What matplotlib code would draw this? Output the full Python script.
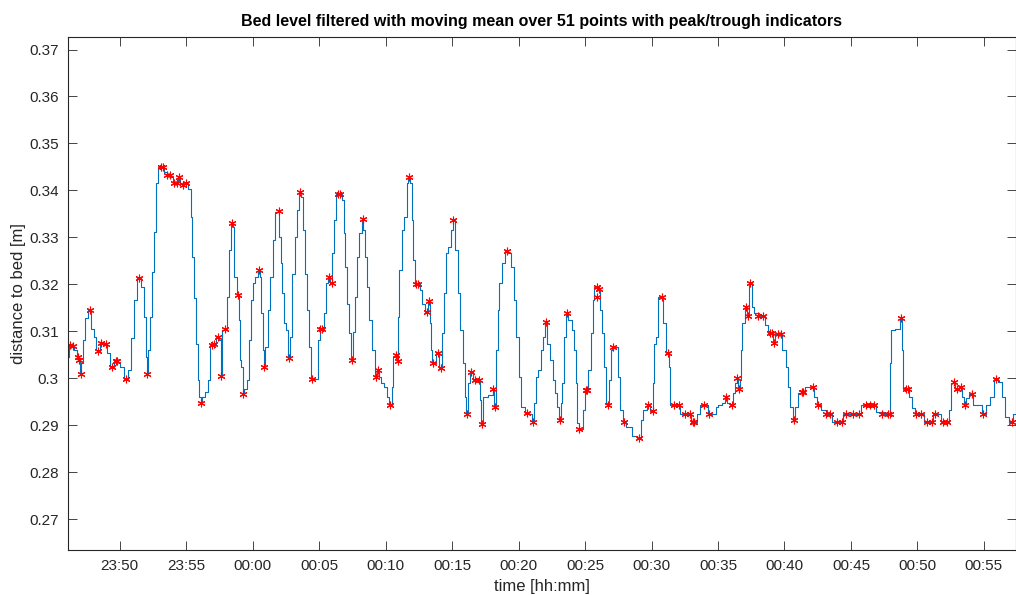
import numpy as np
import matplotlib
matplotlib.use("Agg")
import matplotlib.pyplot as plt

plt.rcParams['font.family'] = ['Liberation Sans', 'DejaVu Sans']

# time in minutes relative to 00:00, bed level in m
t = [-13.87, -13.79, -13.54, -13.37, -13.12, -13.04, -12.91, -12.86, -12.69, -12.54,
     -12.24, -12.03, -11.86, -11.73, -11.61, -11.41, -11.06, -10.86, -10.56, -10.36,
     -10.11, -9.85, -9.55, -9.23, -9.03, -8.85, -8.57, -8.27, -8.10, -8.02,
     -7.93, -7.78, -7.67, -7.52, -7.35, -7.22, -7.05, -6.84, -6.52, -6.35,
     -6.09, -5.84, -5.67, -5.54, -5.42, -5.22, -5.04, -4.72, -4.59, -4.47,
     -4.34, -4.21, -4.09, -3.96, -3.87, -3.72, -3.46, -3.26, -3.16, -2.91,
     -2.59, -2.46, -2.38, -2.21, -2.01, -1.84, -1.71, -1.58, -1.41, -1.33,
     -1.08, -1.01, -0.90, -0.80, -0.71, -0.58, -0.33, -0.20, -0.08, 0.12,
     0.30, 0.45, 0.60, 0.68, 0.80, 0.87, 1.05, 1.25, 1.43, 1.62,
     1.80, 1.96, 2.05, 2.18, 2.30, 2.43, 2.56, 2.71, 2.88, 3.05,
     3.26, 3.43, 3.58, 3.69, 3.81, 4.01, 4.18, 4.31, 4.44, 4.86,
     4.94, 5.23, 5.44, 5.57, 5.74, 5.94, 6.06, 6.19, 6.32, 6.62,
     6.81, 6.89, 7.02, 7.19, 7.32, 7.45, 7.57, 7.77, 7.94, 8.07,
     8.30, 8.37, 8.52, 8.70, 8.87, 9.07, 9.27, 9.40, 9.57, 9.78,
     9.95, 10.20, 10.38, 10.53, 10.63, 10.78, 10.91, 10.95, 11.13, 11.28,
     11.53, 11.63, 11.78, 11.96, 12.00, 12.13, 12.28, 12.45, 12.71, 12.83,
     13.09, 13.26, 13.34, 13.46, 13.58, 13.94, 14.14, 14.29, 14.46, 14.59,
     14.79, 14.97, 15.09, 15.34, 15.54, 15.72, 15.89, 16.04, 16.10, 16.22,
     16.40, 16.72, 17.04, 17.10, 17.25, 17.35, 17.98, 18.10, 18.23, 18.35,
     18.48, 18.60, 18.85, 19.10, 19.35, 19.55, 19.73, 19.90, 20.10, 20.31,
     20.61, 20.98, 21.10, 21.23, 21.36, 21.61, 21.74, 21.86, 22.06, 22.23,
     22.49, 22.66, 22.81, 22.98, 23.11, 23.24, 23.36, 23.49, 23.62, 23.86,
     24.11, 24.24, 24.37, 24.49, 24.56, 24.82, 24.86, 25.07, 25.32, 25.50,
     25.62, 25.75, 25.92, 26.07, 26.25, 26.37, 26.50, 26.62, 26.75, 26.87,
     27.00, 27.08, 27.38, 27.57, 27.75, 27.93, 28.25, 28.75, 29.08, 29.26,
     29.50, 29.75, 30.08, 30.13, 30.26, 30.39, 30.51, 30.76, 30.93, 31.26,
     31.38, 31.44, 32.08, 32.27, 32.89, 33.02, 33.27, 33.52, 33.77, 34.15,
     34.34, 34.77, 34.90, 35.15, 35.40, 35.58, 35.78, 36.07, 36.23, 36.40,
     36.45, 36.58, 36.70, 36.78, 36.90, 37.10, 37.28, 37.40, 37.53, 37.58,
     37.78, 38.40, 38.66, 38.91, 39.11, 39.23, 39.36, 39.73, 39.96, 40.21,
     40.36, 40.54, 40.73, 40.91, 41.09, 41.41, 41.61, 42.12, 42.29, 42.54,
     42.92, 43.42, 43.67, 44.30, 44.47, 45.60, 45.93, 46.75, 47.05, 47.93,
     47.98, 48.10, 48.56, 48.78, 48.89, 48.99, 49.26, 49.44, 49.69, 49.89,
     50.44, 50.57, 51.07, 51.25, 51.75, 51.82, 52.32, 52.45, 52.57, 52.77,
     52.95, 53.25, 53.40, 53.57, 53.70, 54.10, 54.33, 54.70, 54.95, 55.33,
     55.58, 55.91, 56.21, 56.46, 56.71, 57.09, 57.34]
bed = [0.3046, 0.3071, 0.3068, 0.3060, 0.3046, 0.3039, 0.3010, 0.3032, 0.3081, 0.3128,
       0.3145, 0.3106, 0.3088, 0.3060, 0.3059, 0.3076, 0.3072, 0.3053, 0.3023, 0.3037,
       0.3035, 0.3025, 0.2999, 0.3017, 0.3085, 0.3166, 0.3213, 0.3195, 0.3131, 0.3046,
       0.3010, 0.3060, 0.3131, 0.3227, 0.3312, 0.3415, 0.3450, 0.3450, 0.3440, 0.3433,
       0.3429, 0.3415, 0.3415, 0.3428, 0.3415, 0.3411, 0.3415, 0.3404, 0.3344, 0.3259,
       0.3170, 0.3074, 0.2996, 0.2961, 0.2947, 0.2961, 0.2971, 0.2996, 0.3071, 0.3072,
       0.3087, 0.3081, 0.3005, 0.3103, 0.3106, 0.3174, 0.3273, 0.3331, 0.3323, 0.3216,
       0.3177, 0.3124, 0.3039, 0.3025, 0.2966, 0.2978, 0.2996, 0.3081, 0.3166, 0.3202,
       0.3216, 0.3230, 0.3216, 0.3138, 0.3060, 0.3023, 0.3067, 0.3145, 0.3216, 0.3294,
       0.3354, 0.3357, 0.3301, 0.3245, 0.3181, 0.3117, 0.3103, 0.3044, 0.3088, 0.3223,
       0.3301, 0.3358, 0.3397, 0.3387, 0.3316, 0.3223, 0.3145, 0.3067, 0.2999, 0.2999,
       0.3081, 0.3106, 0.3138, 0.3202, 0.3216, 0.3202, 0.3266, 0.3337, 0.3394, 0.3392,
       0.3379, 0.3309, 0.3237, 0.3159, 0.3096, 0.3039, 0.3099, 0.3174, 0.3259, 0.3309,
       0.3340, 0.3316, 0.3259, 0.3195, 0.3124, 0.3060, 0.3003, 0.3017, 0.3003, 0.2989,
       0.2982, 0.2961, 0.2943, 0.2982, 0.3046, 0.3049, 0.3037, 0.3131, 0.3230, 0.3316,
       0.3344, 0.3415, 0.3428, 0.3415, 0.3337, 0.3252, 0.3200, 0.3200, 0.3188, 0.3159,
       0.3142, 0.3164, 0.3117, 0.3060, 0.3032, 0.3053, 0.3022, 0.3096, 0.3181, 0.3266,
       0.3280, 0.3316, 0.3337, 0.3273, 0.3181, 0.3103, 0.3032, 0.2961, 0.2925, 0.2989,
       0.3014, 0.2996, 0.2996, 0.2954, 0.2902, 0.2961, 0.2964, 0.2978, 0.2939, 0.3060,
       0.3145, 0.3202, 0.3245, 0.3271, 0.3266, 0.3237, 0.3166, 0.3088, 0.3003, 0.2939,
       0.2927, 0.2925, 0.2907, 0.2947, 0.3003, 0.3017, 0.3060, 0.3088, 0.3119, 0.3074,
       0.3039, 0.2996, 0.2968, 0.2939, 0.2911, 0.2947, 0.2989, 0.3088, 0.3138, 0.3124,
       0.3103, 0.3060, 0.2989, 0.2904, 0.2891, 0.2891, 0.2932, 0.2976, 0.3017, 0.3096,
       0.3166, 0.3195, 0.3195, 0.3191, 0.3145, 0.3096, 0.3025, 0.2947, 0.2943, 0.2996,
       0.3060, 0.3067, 0.3067, 0.3003, 0.2932, 0.2907, 0.2897, 0.2877, 0.2872, 0.2911,
       0.2932, 0.2943, 0.2930, 0.2989, 0.3074, 0.3088, 0.3174, 0.3174, 0.3117, 0.3053,
       0.3025, 0.2943, 0.2943, 0.2925, 0.2925, 0.2907, 0.2907, 0.2925, 0.2943, 0.2943,
       0.2925, 0.2925, 0.2939, 0.2943, 0.2947, 0.2961, 0.2947, 0.2943, 0.2968, 0.2989,
       0.3001, 0.2978, 0.2996, 0.3060, 0.3117, 0.3152, 0.3133, 0.3203, 0.3202, 0.3152,
       0.3138, 0.3133, 0.3113, 0.3097, 0.3097, 0.3076, 0.3094, 0.3094, 0.3060, 0.3025,
       0.2982, 0.2939, 0.2912, 0.2939, 0.2968, 0.2971, 0.2982, 0.2982, 0.2961, 0.2943,
       0.2932, 0.2925, 0.2907, 0.2907, 0.2925, 0.2925, 0.2943, 0.2943, 0.2929, 0.2925,
       0.3032, 0.3103, 0.3106, 0.3129, 0.3060, 0.2978, 0.2978, 0.2961, 0.2936, 0.2925,
       0.2925, 0.2907, 0.2907, 0.2925, 0.2925, 0.2907, 0.2907, 0.2932, 0.2989, 0.2993,
       0.2978, 0.2982, 0.2961, 0.2943, 0.2957, 0.2966, 0.2943, 0.2943, 0.2925, 0.2943,
       0.2961, 0.2999, 0.2993, 0.2961, 0.2918, 0.2907, 0.2925]

# detected peaks and troughs
pk_t = [-13.74, -13.54, -13.12, -13.04, -12.91, -12.24, -11.61, -11.41, -11.06, -10.56,
        -10.28, -10.18, -9.55, -8.57, -7.93, -6.90, -6.72, -6.42, -6.22, -5.92,
        -5.72, -5.54, -5.22, -5.04, -3.87, -3.06, -2.91, -2.59, -2.38, -2.08,
        -1.58, -1.08, -0.75, 0.45, 0.87, 1.96, 2.71, 3.58, 4.44, 5.06,
        5.23, 5.74, 5.94, 6.44, 6.57, 7.45, 8.30, 9.27, 9.40, 10.33,
        10.78, 10.91, 11.78, 12.28, 12.45, 13.09, 13.26, 13.58, 13.94, 14.14,
        15.09, 16.10, 16.40, 16.72, 17.04, 17.25, 18.10, 18.23, 19.10, 20.61,
        21.10, 22.06, 23.11, 23.62, 24.56, 25.07, 25.12, 25.87, 25.92, 26.07,
        26.75, 27.08, 27.93, 29.08, 29.75, 30.08, 30.76, 31.26, 31.69, 32.08,
        32.51, 32.89, 33.09, 33.21, 33.92, 34.34, 35.58, 36.07, 36.45, 36.58,
        37.10, 37.28, 37.40, 38.03, 38.40, 38.91, 39.03, 39.23, 39.53, 39.73,
        40.73, 41.34, 41.41, 42.12, 42.54, 43.12, 43.42, 43.92, 44.30, 44.62,
        45.12, 45.60, 46.10, 46.43, 46.75, 47.31, 47.81, 47.93, 48.78, 49.11,
        49.26, 49.89, 50.26, 50.69, 51.07, 51.32, 51.94, 52.24, 52.77, 52.95,
        53.25, 53.57, 54.10, 54.95, 55.91, 57.09]
pk_bed = [0.3071, 0.3068, 0.3046, 0.3039, 0.3010, 0.3145, 0.3059, 0.3076, 0.3072, 0.3023,
          0.3037, 0.3037, 0.2999, 0.3213, 0.3010, 0.3450, 0.3450, 0.3433, 0.3433, 0.3415,
          0.3415, 0.3428, 0.3411, 0.3415, 0.2947, 0.3071, 0.3072, 0.3087, 0.3005, 0.3106,
          0.3331, 0.3177, 0.2966, 0.3230, 0.3023, 0.3357, 0.3044, 0.3397, 0.2999, 0.3106,
          0.3106, 0.3216, 0.3202, 0.3392, 0.3392, 0.3039, 0.3340, 0.3003, 0.3017, 0.2943,
          0.3049, 0.3037, 0.3428, 0.3200, 0.3200, 0.3142, 0.3164, 0.3032, 0.3053, 0.3022,
          0.3337, 0.2925, 0.3014, 0.2996, 0.2996, 0.2902, 0.2978, 0.2939, 0.3271, 0.2927,
          0.2907, 0.3119, 0.2911, 0.3138, 0.2891, 0.2976, 0.2976, 0.3173, 0.3195, 0.3191,
          0.2943, 0.3067, 0.2907, 0.2872, 0.2943, 0.2930, 0.3174, 0.3053, 0.2943, 0.2943,
          0.2925, 0.2925, 0.2907, 0.2907, 0.2943, 0.2925, 0.2961, 0.2943, 0.3001, 0.2978,
          0.3152, 0.3133, 0.3203, 0.3133, 0.3133, 0.3097, 0.3097, 0.3076, 0.3094, 0.3094,
          0.2912, 0.2971, 0.2971, 0.2982, 0.2943, 0.2925, 0.2925, 0.2907, 0.2907, 0.2925,
          0.2925, 0.2925, 0.2943, 0.2943, 0.2943, 0.2925, 0.2925, 0.2925, 0.3129, 0.2978,
          0.2978, 0.2925, 0.2925, 0.2907, 0.2907, 0.2925, 0.2907, 0.2907, 0.2993, 0.2978,
          0.2982, 0.2943, 0.2966, 0.2925, 0.2999, 0.2907]

xtick_pos = [-10, -5, 0, 5, 10, 15, 20, 25, 30, 35, 40, 45, 50, 55]
xtick_lbl = ['23:50', '23:55', '00:00', '00:05', '00:10', '00:15', '00:20',
             '00:25', '00:30', '00:35', '00:40', '00:45', '00:50', '00:55']
ytick_pos = [0.27, 0.28, 0.29, 0.30, 0.31, 0.32, 0.33, 0.34, 0.35, 0.36, 0.37]
ytick_lbl = ['0.27', '0.28', '0.29', '0.3', '0.31', '0.32', '0.33', '0.34',
             '0.35', '0.36', '0.37']

dark = '#262626'
fig = plt.figure(figsize=(10.16, 5.95), dpi=100)
ax = fig.add_axes([0.0672, 0.0761, 0.9325, 0.8612])

ax.plot(t, bed, color='#0072BD', lw=0.8, drawstyle='steps-mid')
ax.plot(pk_t, pk_bed, ls='none', marker=(6, 2, 0), ms=5.5, mec='red', mew=0.8,
        color='red')

ax.set_xlim(-13.87, 57.39)
ax.set_ylim(0.2635, 0.3726)
ax.set_xticks(xtick_pos)
ax.set_xticklabels(xtick_lbl)
ax.set_yticks(ytick_pos)
ax.set_yticklabels(ytick_lbl)

ax.tick_params(direction='in', length=6.5, width=0.6, colors=dark,
               labelsize=11, top=True, right=True, pad=7)
for s in ax.spines.values():
    s.set_color(dark)
    s.set_linewidth(0.8)

ax.set_title('Bed level filtered with moving mean over 51 points with peak/trough indicators',
             fontsize=11.5, fontweight='bold', color='black', pad=8)
ax.set_xlabel('time [hh:mm]', fontsize=12, color=dark, labelpad=4)
ax.set_ylabel('distance to bed [m]', fontsize=12, color=dark, labelpad=2)

fig.savefig('out.png', dpi=100)
